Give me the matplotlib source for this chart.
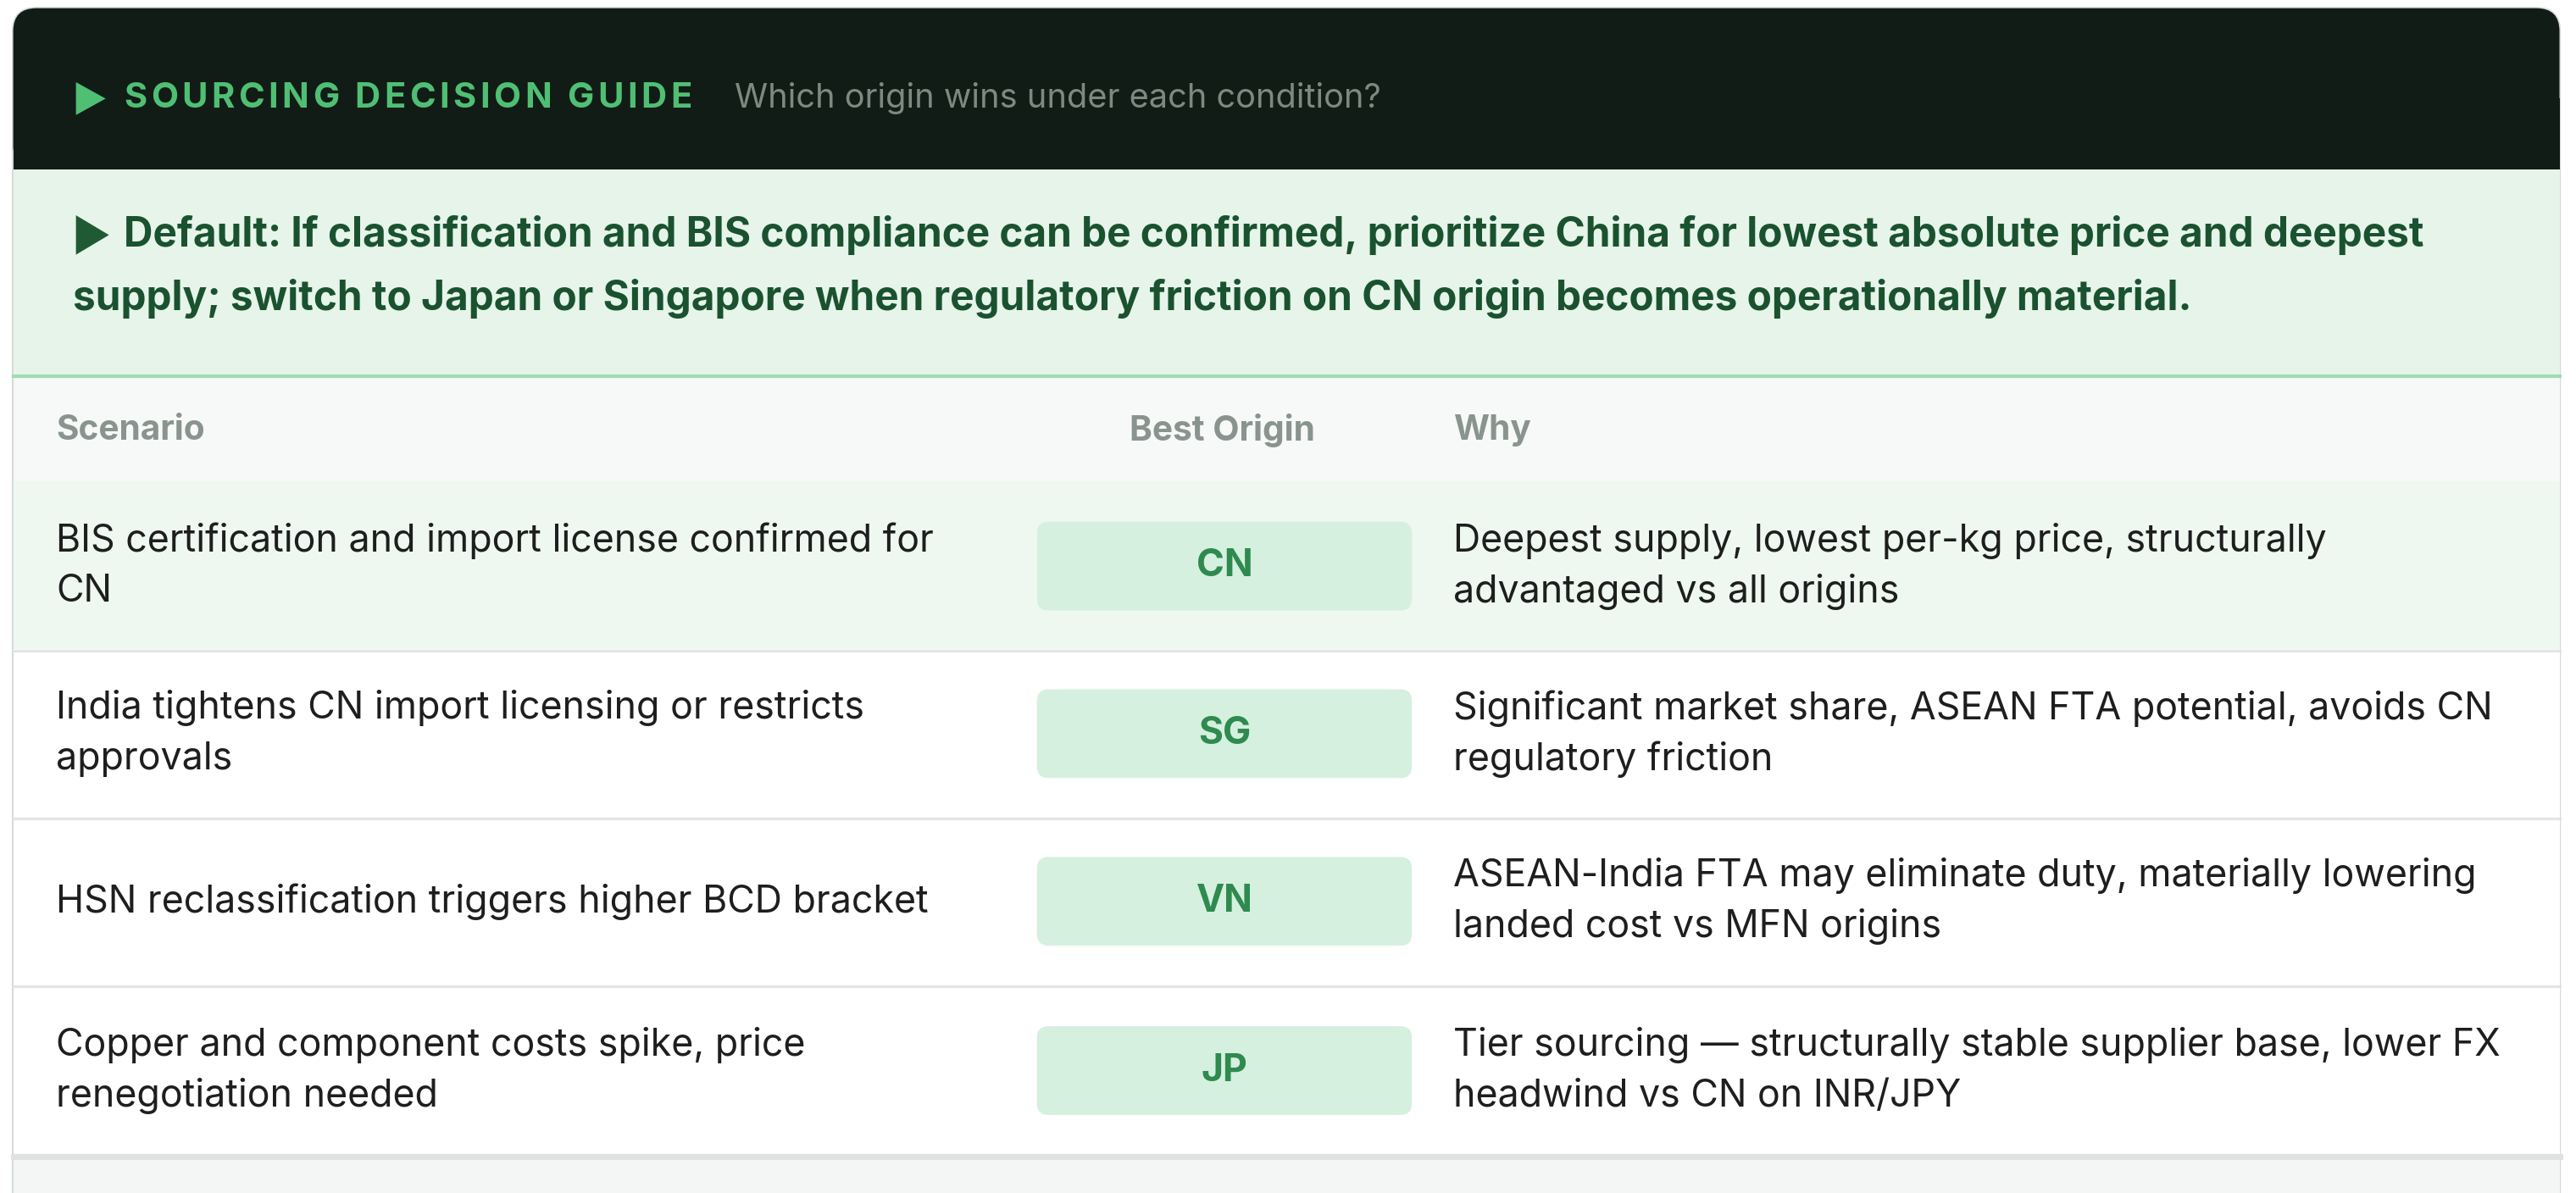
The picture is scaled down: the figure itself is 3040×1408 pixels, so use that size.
import matplotlib
matplotlib.use("Agg")
import matplotlib.pyplot as plt
from matplotlib.patches import FancyBboxPatch, Rectangle, Polygon

title = "SOURCING DECISION GUIDE"
subtitle = "Which origin wins under each condition?"
default_lines = ["Default: If classification and BIS compliance can be confirmed, prioritize China for lowest absolute price and deepest",
                 "supply; switch to Japan or Singapore when regulatory friction on CN origin becomes operationally material."]
headers = ["Scenario", "Best Origin", "Why"]
scenarios = [["BIS certification and import license confirmed for", "CN"],
             ["India tightens CN import licensing or restricts", "approvals"],
             ["HSN reclassification triggers higher BCD bracket"],
             ["Copper and component costs spike, price", "renegotiation needed"]]
origins = ["CN", "SG", "VN", "JP"]
whys = [["Deepest supply, lowest per-kg price, structurally", "advantaged vs all origins"],
        ["Significant market share, ASEAN FTA potential, avoids CN", "regulatory friction"],
        ["ASEAN-India FTA may eliminate duty, materially lowering", "landed cost vs MFN origins"],
        ["Tier sourcing \u2014 structurally stable supplier base, lower FX", "headwind vs CN on INR/JPY"]]

W, H = 1560, 726
fig = plt.figure(figsize=(15.2, 7.04), dpi=200)
ax = fig.add_axes([0, 0, 1, 1])
ax.set_xlim(0, W); ax.set_ylim(H, 0); ax.axis("off")
fig.patch.set_facecolor("white")
F = "Inter"
renderer = fig.canvas.get_renderer()

# card
ax.add_patch(FancyBboxPatch((8, 5), 1542, 760, boxstyle="round,pad=0,rounding_size=14",
                            fc="white", ec="#d6dbd8", lw=1.2, zorder=0))
ax.add_patch(FancyBboxPatch((8, 5), 1542, 98, boxstyle="round,pad=0,rounding_size=14",
                            fc="#121c16", ec="none", zorder=1))
ax.add_patch(Rectangle((8, 60), 1542, 43, fc="#121c16", ec="none", zorder=1))
ax.add_patch(Polygon([[46, 50], [46, 70], [64, 60]], fc="#4fbf74", ec="none", zorder=2))

# letter-spaced title
x = 75.0
px_per_unit = fig.bbox.width / W
for ch in title:
    t = ax.text(x, 60, ch, color="#4fbf74", fontsize=15, fontweight="bold", family=F,
                va="center", ha="left", zorder=3)
    if ch == " ":
        w = 5.0
    else:
        w = t.get_window_extent(renderer).width / px_per_unit
    x += w + 2.3
ax.text(445, 60, subtitle, color="#7d8a80", fontsize=14.3, family=F, va="center", ha="left", zorder=3)

# default band
ax.add_patch(Rectangle((8, 103), 1542, 126, fc="#e6f4ea", ec="none", zorder=1))
ax.add_patch(Polygon([[46, 131], [46, 155], [66, 143]], fc="#1f5a35", ec="none", zorder=2))
ax.text(75, 143, default_lines[0], color="#1a5230", fontsize=17.2, fontweight="bold", family=F,
        va="center", ha="left", zorder=3)
ax.text(44, 182, default_lines[1], color="#1a5230", fontsize=17.2, fontweight="bold", family=F,
        va="center", ha="left", zorder=3)
ax.plot([8, 1550], [229, 229], color="#9fdcb5", lw=1.5, zorder=3)

# header row
ax.add_patch(Rectangle((8, 230), 1542, 63, fc="#f6f9f7", ec="none", zorder=1))
for hx, h in zip([34, 684, 880], headers):
    ax.text(hx, 262, h, color="#8a948e", fontsize=14.6, fontweight="bold", family=F,
            va="center", ha="left", zorder=3)

row_top = [293, 395, 497, 600]
row_h = 103
for i, (sc, og, wy) in enumerate(zip(scenarios, origins, whys)):
    t = row_top[i]
    fc = "#eef8f1" if i == 0 else "white"
    ax.add_patch(Rectangle((8, t), 1542, row_h, fc=fc, ec="none", zorder=1))
    ax.plot([8, 1550], [t + row_h, t + row_h], color="#e2e5e3", lw=1.2, zorder=2)
    cy = t + row_h / 2
    for lines, lx in ((sc, 34), (wy, 880)):
        n = len(lines)
        for k, ln in enumerate(lines):
            ax.text(lx, cy + (k - (n - 1) / 2) * 31, ln, color="#1e1e1e", fontsize=16.1,
                    family=F, va="center", ha="left", zorder=3)
    ax.add_patch(FancyBboxPatch((628, cy - 27), 227, 54, boxstyle="round,pad=0,rounding_size=7",
                                fc="#d5f0de", ec="none", zorder=2))
    ax.text(741.5, cy, og, color="#2f8a4f", fontsize=16, fontweight="bold", family=F,
            va="center", ha="center", zorder=3)

ax.add_patch(Rectangle((8, 704), 1542, 30, fc="#f4f6f5", ec="none", zorder=1))
ax.plot([8, 1550], [704, 704], color="#dfe2e0", lw=2.5, zorder=2)

fig.savefig("out.png", dpi=200)
